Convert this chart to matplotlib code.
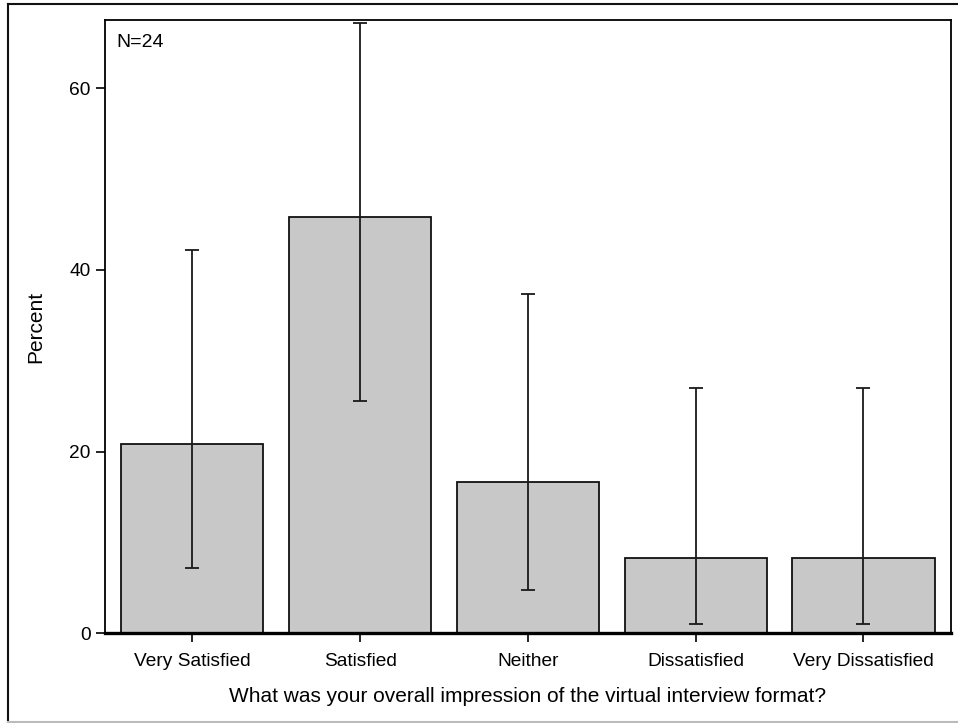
import numpy as np
import matplotlib.pyplot as plt
from matplotlib.lines import Line2D

plt.rcParams['font.family'] = ['Liberation Sans', 'DejaVu Sans']

categories = ['Very Satisfied', 'Satisfied', 'Neither', 'Dissatisfied', 'Very Dissatisfied']
percent = [20.83, 45.83, 16.67, 8.33, 8.33]
ci_lower = [7.13, 25.55, 4.74, 1.03, 1.03]
ci_upper = [42.15, 67.18, 37.38, 27.0, 27.0]
yticks = [0, 20, 40, 60]

fig = plt.figure(figsize=(9.58, 7.23), dpi=100)
ax = fig.add_axes([0.1096, 0.1241, 0.8828, 0.8482])

x = np.arange(len(categories))
pct = np.array(percent)
yerr = np.vstack([pct - np.array(ci_lower), np.array(ci_upper) - pct])

ax.bar(x, pct, width=0.848, color='#c8c8c8', edgecolor='#111111', linewidth=1.3, zorder=2)
ax.errorbar(x, pct, yerr=yerr, fmt='none', ecolor='#1a1a1a', elinewidth=1.3,
            capsize=5, capthick=1.3, zorder=3)

ax.set_xlim(-0.52, 4.52)
ax.set_ylim(0, 67.5)
ax.set_xticks(x)
ax.set_xticklabels(categories, fontsize=13.8)
ax.set_yticks(yticks)
ax.tick_params(axis='both', labelsize=13.8, length=6.5, width=1.2, direction='out')
ax.tick_params(axis='x', pad=8)
ax.tick_params(axis='y', pad=4)

for s in ['left', 'top', 'right']:
    ax.spines[s].set_linewidth(1.3)
ax.spines['bottom'].set_linewidth(2.4)

ax.set_ylabel('Percent', fontsize=15, labelpad=17)
ax.set_xlabel('What was your overall impression of the virtual interview format?', fontsize=15, labelpad=12)
ax.text(0.013, 0.978, 'N=24', transform=ax.transAxes, fontsize=14, va='top', ha='left')

# outer frame around the whole graphic
W, H = 958, 723
fig.add_artist(Line2D([8 / W, 1.0], [1 - 4 / H, 1 - 4 / H], transform=fig.transFigure, color='#111111', lw=1.5))
fig.add_artist(Line2D([8 / W, 8 / W], [1 - 4 / H, 1 / H], transform=fig.transFigure, color='#111111', lw=1.5))
fig.add_artist(Line2D([8 / W, 1.0], [1 / H, 1 / H], transform=fig.transFigure, color='#bbbbbb', lw=1.5))

fig.savefig('out.png', dpi=100)
